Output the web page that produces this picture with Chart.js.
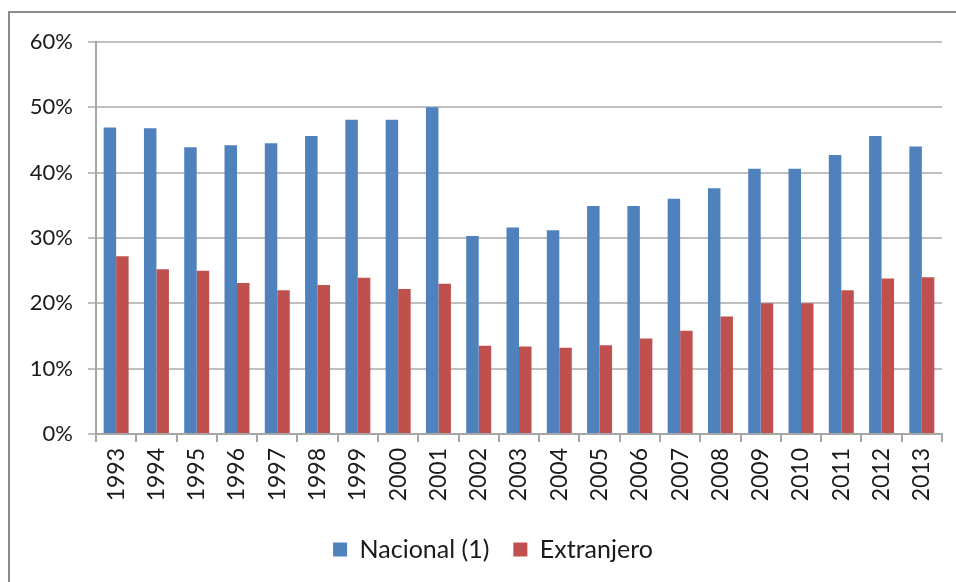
<!DOCTYPE html>
<html>
<head>
<meta charset="utf-8">
<script src="https://cdn.jsdelivr.net/npm/chart.js@4/dist/chart.umd.min.js"></script>
<style>
html,body{margin:0;padding:0;background:#fff;}
#wrap{position:relative;width:956px;height:582px;}
canvas{display:block;}
</style>
</head>
<body>
<div id="wrap"><canvas id="c" width="956" height="582"></canvas></div>
<script>
const years = ["1993","1994","1995","1996","1997","1998","1999","2000","2001","2002","2003","2004","2005","2006","2007","2008","2009","2010","2011","2012","2013"];
const nacional = [46.9,46.8,43.9,44.2,44.5,45.6,48.1,48.1,50.0,30.3,31.6,31.2,34.9,34.9,36.0,37.6,40.6,40.6,42.7,45.6,44.0];
const extranjero = [27.2,25.2,25.0,23.1,22.0,22.8,23.9,22.2,23.0,13.5,13.4,13.2,13.6,14.6,15.8,18.0,20.0,20.0,22.0,23.8,24.0];
const yTicks = [0,10,20,30,40,50,60];

const frame = {
  id:'frame',
  beforeDraw(chart){
    const ctx = chart.ctx;
    ctx.save();
    ctx.strokeStyle = '#8c8c8c';
    ctx.lineWidth = 2;
    ctx.beginPath();
    ctx.moveTo(9, 600);
    ctx.lineTo(9, 12);
    ctx.lineTo(970, 12);
    ctx.stroke();
    ctx.restore();
  },
  afterLayout(chart){
    const lg = chart.legend;
    if (lg) { lg.left += 22; lg.right += 22; }
  }
};

const FONT = 'Lato, "Liberation Sans", sans-serif';
new Chart(document.getElementById('c'), {
  type: 'bar',
  data: {
    labels: years,
    datasets: [
      {label: 'Nacional (1)', data: nacional, backgroundColor: '#4F81BD', borderWidth:0},
      {label: 'Extranjero', data: extranjero, backgroundColor: '#C0504D', borderWidth:0}
    ]
  },
  options: {
    responsive: false,
    animation: false,
    devicePixelRatio: 1,
    categoryPercentage: 0.62,
    barPercentage: 1.0,
    layout: {padding: {top: 42, left: 0, right: 14, bottom: 10}},
    plugins: {
      legend: {
        position: 'bottom',
        labels: {
          font: {family: FONT, size: 25},
          color: '#1a1a1a',
          boxWidth: 14, boxHeight: 14,
          padding: 24
        }
      },
      tooltip: {enabled: false}
    },
    scales: {
      x: {
        grid: {display: true, drawOnChartArea: false, drawTicks: true, tickLength: 8, color: '#A6A6A6', lineWidth: 2, offset: true},
        border: {display: true, color: '#A6A6A6', width: 2},
        ticks: {font: {family: FONT, size: 23}, color: '#1a1a1a', minRotation: 90, maxRotation: 90, padding: 6, autoSkip: false},
        afterFit(s){ s.height = 79; }
      },
      y: {
        min: 0, max: 60,
        afterBuildTicks(s){ s.ticks = yTicks.map(v => ({value: v})); },
        grid: {color: '#BFBFBF', lineWidth: 2, tickLength: 8, drawTicks: true},
        border: {display: true, color: '#A6A6A6', width: 2},
        ticks: {font: {family: FONT, size: 22}, color: '#1a1a1a', padding: 15, callback: v => v + '%'},
        afterFit(s){ s.width = 96; }
      }
    }
  },
  plugins: [frame]
});
</script>
</body>
</html>
